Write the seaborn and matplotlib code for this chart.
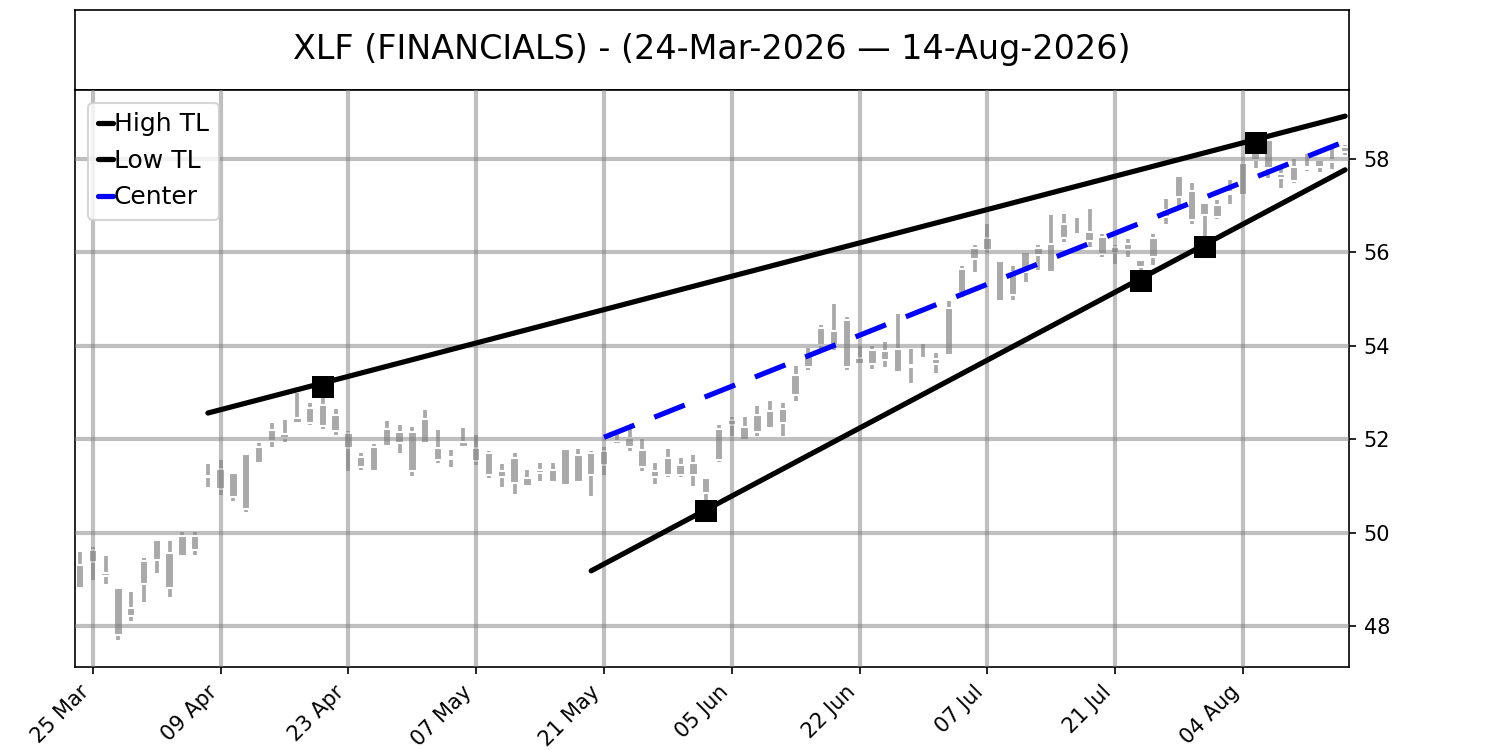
import numpy as np
import pandas as pd
import matplotlib
matplotlib.use("Agg")
import matplotlib.pyplot as plt
import seaborn as sns

# trading calendar (NYSE holidays removed)
holidays = ["2026-04-03", "2026-05-25", "2026-06-19", "2026-07-03"]
dates = pd.bdate_range("2026-03-24", "2026-08-14", freq="C", holidays=holidays)

# OHLC, one entry per trading day
opens = [48.81, 49.37, 49.14, 48.82, 48.22, 48.90, 49.42, 49.56, 49.50, 49.92,
         51.18, 51.36, 50.77, 51.68, 51.50, 51.97, 52.11, 52.34, 52.34, 52.74,
         52.18, 52.13, 51.41, 51.32, 51.86, 52.16, 51.31, 51.91, 51.81, 51.61,
         51.84, 51.81, 51.71, 51.20, 51.06, 51.16, 51.27, 51.09, 51.01, 51.66,
         51.24, 51.45, 51.89, 52.02, 51.77, 51.31, 51.24, 51.45, 51.24, 51.16,
         51.56, 52.31, 51.99, 52.16, 52.24, 52.64, 52.94, 53.55, 54.01, 54.31,
         54.56, 53.73, 53.61, 53.89, 53.94, 53.59, 53.74, 53.61, 53.80, 55.13,
         55.86, 56.05, 55.81, 55.09, 55.59, 55.94, 55.59, 56.30, 56.80, 56.44,
         56.34, 55.98, 56.05, 55.84, 55.91, 56.77, 57.19, 57.31, 57.05, 56.77,
         57.25, 57.24, 57.98, 58.41, 57.67, 57.53, 57.79, 57.84, 57.93, 58.16]
highs = [49.58, 49.70, 49.50, 48.83, 48.72, 49.45, 49.87, 49.82, 50.01, 50.01,
         51.47, 51.56, 51.29, 51.69, 51.91, 52.34, 52.41, 52.99, 52.77, 53.10,
         52.64, 52.18, 51.70, 51.90, 52.39, 52.31, 52.26, 52.63, 52.20, 51.77,
         52.24, 52.09, 51.75, 51.47, 51.70, 51.34, 51.50, 51.49, 51.81, 51.79,
         51.74, 51.84, 52.16, 52.27, 52.00, 51.50, 51.79, 51.59, 51.66, 51.16,
         52.31, 52.47, 52.47, 52.70, 52.81, 52.77, 53.56, 53.96, 54.44, 54.89,
         54.61, 54.00, 54.00, 54.09, 54.68, 53.94, 54.04, 53.84, 54.95, 55.70,
         56.17, 56.60, 55.81, 55.71, 56.03, 56.16, 56.80, 56.82, 56.83, 56.94,
         56.39, 56.16, 56.28, 55.84, 56.39, 57.14, 57.64, 57.48, 57.05, 57.12,
         57.55, 57.91, 58.35, 58.41, 57.80, 58.01, 58.10, 58.01, 58.31, 58.30]
lows = [48.81, 48.99, 48.90, 47.69, 48.10, 48.52, 49.14, 48.61, 49.47, 49.51,
        50.97, 50.81, 50.67, 50.44, 51.46, 51.84, 51.94, 52.33, 52.31, 52.21,
        52.09, 51.32, 51.34, 51.32, 51.83, 51.71, 51.22, 51.91, 51.50, 51.40,
        51.81, 51.45, 51.16, 50.97, 50.82, 50.99, 51.11, 51.06, 50.99, 51.09,
        50.79, 51.24, 51.88, 51.74, 51.31, 51.04, 51.20, 51.20, 50.99, 50.50,
        51.52, 52.06, 51.99, 52.06, 52.24, 52.06, 52.82, 53.49, 53.91, 53.92,
        53.49, 53.62, 53.51, 53.55, 53.44, 53.21, 53.71, 53.41, 53.78, 55.04,
        55.59, 56.00, 54.97, 54.99, 55.37, 55.62, 55.59, 56.23, 56.41, 56.12,
        55.91, 55.76, 55.91, 55.39, 55.73, 56.60, 56.98, 56.60, 56.14, 56.72,
        57.03, 57.23, 57.81, 57.60, 57.37, 57.48, 57.74, 57.73, 57.79, 58.09]
closes = [49.31, 49.62, 49.06, 47.81, 48.38, 49.39, 49.84, 48.82, 49.93, 49.62,
          51.22, 50.94, 51.27, 50.50, 51.83, 52.20, 52.02, 52.45, 52.66, 52.29,
          52.52, 51.81, 51.61, 51.83, 52.21, 51.91, 52.16, 52.43, 51.56, 51.57,
          51.95, 51.54, 51.24, 51.32, 51.59, 50.99, 51.34, 51.34, 51.79, 51.09,
          51.71, 51.74, 51.96, 51.84, 51.41, 51.20, 51.59, 51.24, 51.49, 50.84,
          52.21, 52.41, 52.27, 52.52, 52.61, 52.34, 53.37, 53.78, 54.39, 54.01,
          53.55, 53.62, 53.91, 53.69, 53.44, 53.55, 53.71, 53.71, 54.80, 55.64,
          56.10, 56.32, 54.97, 55.59, 56.01, 56.09, 56.19, 56.60, 56.75, 56.25,
          55.96, 56.12, 56.19, 55.69, 56.31, 56.91, 57.64, 56.69, 56.80, 57.01,
          57.30, 57.91, 58.12, 57.81, 57.60, 57.84, 57.84, 57.98, 57.98, 58.26]

# trendline end points (bar index, price)
high_tl_x = [10, 99]
high_tl_y = [52.56, 58.92]
low_tl_x = [40, 99]
low_tl_y = [49.18, 57.77]
center_x = [41, 99]
center_y = [52.04, 58.38]

# pivot points touching the trendlines
high_piv_x = [19, 92]
high_piv_y = [53.12, 58.35]
low_piv_x = [49, 83, 88]
low_piv_y = [50.46, 55.39, 56.12]

y_ticks = [48, 50, 52, 54, 56, 58]

sns.set_style("ticks", {"axes.edgecolor": "black", "xtick.color": "black",
                        "ytick.color": "black", "text.color": "black",
                        "xtick.bottom": True, "ytick.right": True})
plt.rcParams["font.family"] = ["DejaVu Sans"]

df = pd.DataFrame({"date": dates, "open": opens, "high": highs,
                   "low": lows, "close": closes})
df["idx"] = np.arange(len(df))

fig = plt.figure(figsize=(10, 5), dpi=150)
ax_t = fig.add_axes([0.05, 0.88, 0.8493, 0.1067])
ax = fig.add_axes([0.05, 0.1107, 0.8493, 0.7693])

ax_t.set_xticks([])
ax_t.set_yticks([])
for s in ax_t.spines.values():
    s.set_color("black")
ax_t.text(0.5, 0.5, "XLF (FINANCIALS) - (24-Mar-2026 \u2014 14-Aug-2026)",
          ha="center", va="center", fontsize=16, transform=ax_t.transAxes)

# candles
body_lo = df[["open", "close"]].min(axis=1)
body_hi = df[["open", "close"]].max(axis=1)
candle_col = "#a9a9a9"
ax.vlines(df["idx"], df["low"], df["high"], color=candle_col, lw=1.8, zorder=1)
ax.bar(df["idx"], body_hi - body_lo, bottom=body_lo, width=0.66,
       color=candle_col, zorder=1)

# trendlines
sns.lineplot(x=high_tl_x, y=high_tl_y, ax=ax, color="black", lw=2.5,
             label="High TL", zorder=3)
sns.lineplot(x=low_tl_x, y=low_tl_y, ax=ax, color="black", lw=2.5,
             label="Low TL", zorder=3)
sns.lineplot(x=center_x, y=center_y, ax=ax, color="blue", lw=2.5,
             linestyle=(0, (6.3, 4.1)), label="Center", zorder=3)
sns.scatterplot(x=high_piv_x + low_piv_x, y=high_piv_y + low_piv_y, ax=ax,
                marker="s", s=110, color="black", edgecolor="black",
                linewidth=0, zorder=4)

ax.set_xlim(-0.4, 99.3)
ax.set_ylim(47.12, 59.48)

tick_pos = list(range(1, len(df), 10))
ax.set_xticks(tick_pos)
ax.set_xticklabels([df["date"][i].strftime("%d %b") for i in tick_pos],
                   rotation=45, ha="right")
ax.set_yticks(y_ticks)
ax.yaxis.tick_right()
ax.tick_params(axis="y", left=False, right=True)
for s in ax.spines.values():
    s.set_visible(True)
    s.set_color("black")

ax.set_axisbelow(False)
ax.grid(True, color="gray", alpha=0.5, lw=2)
ax.set_xlabel("")
ax.set_ylabel("")

leg = ax.legend(loc="upper left", fontsize=12, handlelength=0.6,
                handletextpad=0.05, labelspacing=0.5)
for line in leg.get_lines():
    line.set_linestyle("-")
    line.set_linewidth(2.5)

fig.savefig("out.png", dpi=150)
